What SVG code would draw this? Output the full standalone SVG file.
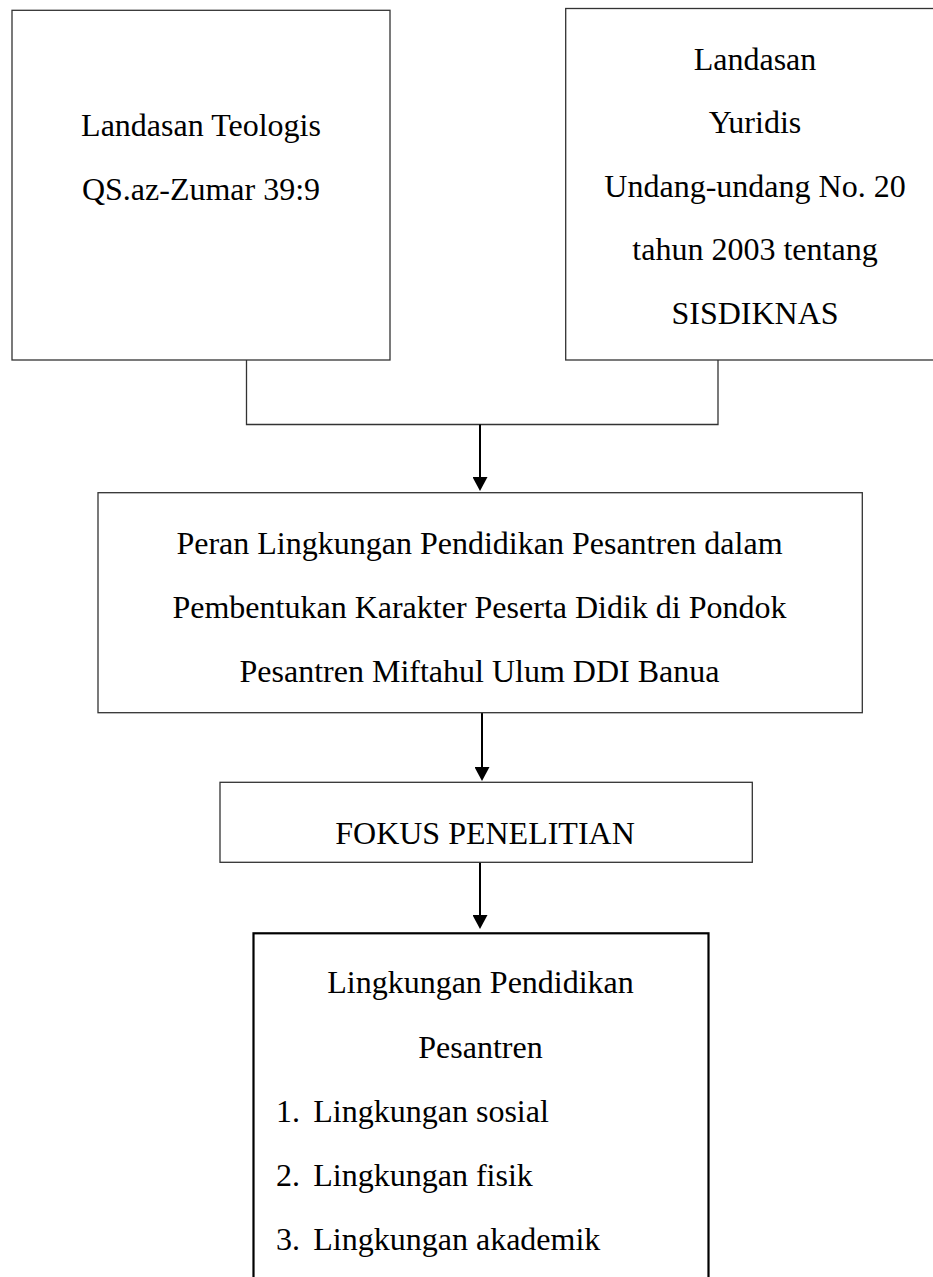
<svg xmlns="http://www.w3.org/2000/svg" width="933" height="1277" viewBox="0 0 933 1277">
  <style>
    .box { fill: #ffffff; stroke: #333333; stroke-width: 1.3; }
    .boxb { fill: #ffffff; stroke: #000000; stroke-width: 2.2; }
    .t { font-family: "Liberation Serif", "Times New Roman", serif; font-size: 32px; fill: #000000; }
    .c { text-anchor: middle; }
    .ln { stroke: #333333; stroke-width: 1.3; fill: none; }
    .ar { stroke: #000000; stroke-width: 2; fill: none; }
  </style>
  <defs>
    <marker id="ah" viewBox="0 0 14 15" refX="0" refY="7.5" markerWidth="14" markerHeight="15" markerUnits="userSpaceOnUse" orient="auto">
      <path d="M0,0 L14,7.5 L0,15 Z" fill="#000000"/>
    </marker>
  </defs>
  <rect width="933" height="1277" fill="#ffffff"/>

  <g id="connectors">
    <polyline class="ln" points="246.5,360 246.5,424.5 718,424.5 718,360"/>
    <line class="ar" x1="480" y1="424.5" x2="480" y2="477" marker-end="url(#ah)"/>
    <line class="ar" x1="482" y1="713" x2="482" y2="767" marker-end="url(#ah)"/>
    <line class="ar" x1="480" y1="862" x2="480" y2="915" marker-end="url(#ah)"/>
  </g>

  <g id="landasan-teologis">
    <rect class="box" x="12" y="10.3" width="378" height="349.7"/>
    <text class="t c" x="201" y="136">Landasan Teologis</text>
    <text class="t c" x="201" y="199.5">QS.az-Zumar 39:9</text>
  </g>

  <g id="landasan-yuridis">
    <rect class="box" x="565.7" y="8.5" width="380" height="351.5"/>
    <text class="t c" x="755" y="70">Landasan</text>
    <text class="t c" x="755" y="133.3">Yuridis</text>
    <text class="t c" x="755" y="196.7">Undang-undang No. 20</text>
    <text class="t c" x="755" y="260">tahun 2003 tentang</text>
    <text class="t c" x="755" y="323.5">SISDIKNAS</text>
  </g>

  <g id="peran">
    <rect class="box" x="98" y="492.7" width="764.3" height="220"/>
    <text class="t c" x="479.5" y="554.3">Peran Lingkungan Pendidikan Pesantren dalam</text>
    <text class="t c" x="479.5" y="618.3">Pembentukan Karakter Peserta Didik di Pondok</text>
    <text class="t c" x="479.5" y="681.7">Pesantren Miftahul Ulum DDI Banua</text>
  </g>

  <g id="fokus">
    <rect class="box" x="220" y="782.3" width="532.3" height="80"/>
    <text class="t c" x="485" y="844">FOKUS PENELITIAN</text>
  </g>

  <g id="lingkungan">
    <rect class="boxb" x="253.5" y="933.3" width="455" height="360"/>
    <text class="t c" x="480.5" y="993.3">Lingkungan Pendidikan</text>
    <text class="t c" x="480.5" y="1058.3">Pesantren</text>
    <text class="t" x="276" y="1121.7">1.</text>
    <text class="t" x="313.3" y="1121.7">Lingkungan sosial</text>
    <text class="t" x="276" y="1186">2.</text>
    <text class="t" x="313.3" y="1186">Lingkungan fisik</text>
    <text class="t" x="276" y="1250">3.</text>
    <text class="t" x="313.3" y="1250">Lingkungan akademik</text>
  </g>
</svg>
